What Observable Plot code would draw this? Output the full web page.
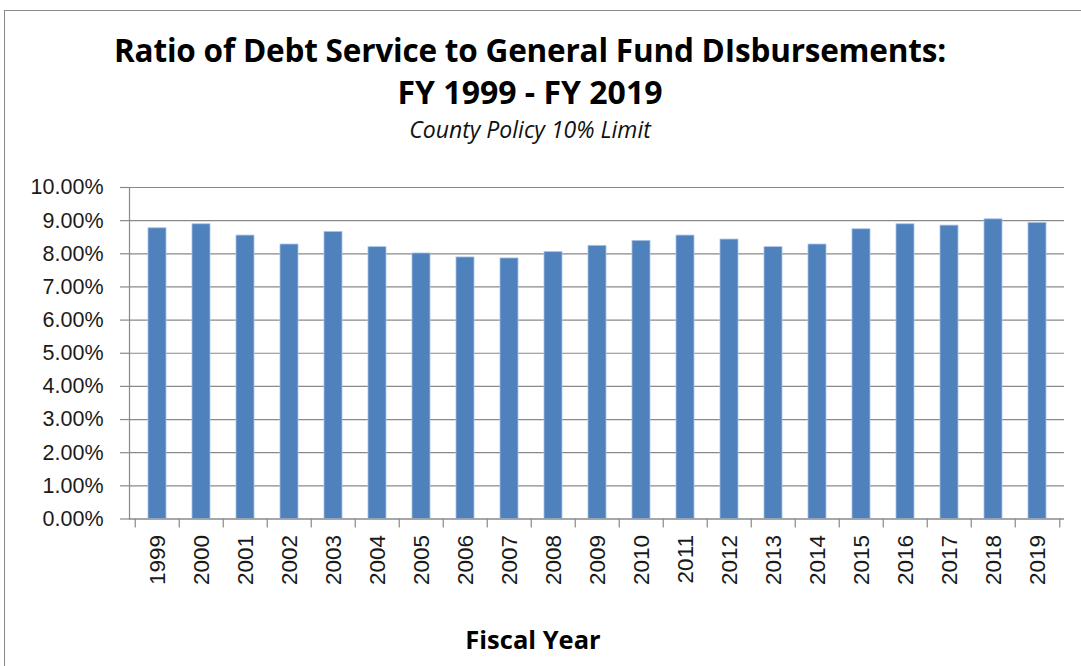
<!DOCTYPE html>
<html>
<head>
<meta charset="utf-8">
<script src="https://cdn.jsdelivr.net/npm/d3@7"></script>
<script src="https://cdn.jsdelivr.net/npm/@observablehq/plot@0.6"></script>
<style>
  html, body { margin: 0; padding: 0; background: #fff; }
  body { width: 1081px; height: 666px; overflow: hidden; position: relative; }
  #frame { position: absolute; left: 4px; top: 10px; width: 1100px; height: 700px; border: 1.5px solid #8a8a8a; box-sizing: border-box; }
  .t { position: absolute; left: 0; width: 1060px; text-align: center; white-space: nowrap; color: #000; line-height: 1; }
  #t1 { top: 28px; font: bold 31.5px "Open Sans"; letter-spacing: -0.2px; }
  #t2 { top: 70px; font: bold 32px "Open Sans"; }
  #t3 { top: 113px; font: italic 23px "Open Sans"; color: #111; }
  #xl { top: 622px; left: 3px; font: bold 25.5px "Open Sans"; }
  #chart { position: absolute; left: 0; top: 150px; }
</style>
</head>
<body>
<div id="frame"></div>
<div class="t" id="t1">Ratio of Debt Service to General Fund DIsbursements:</div>
<div class="t" id="t2">FY 1999 - FY 2019</div>
<div class="t" id="t3">County Policy 10% Limit</div>
<div id="chart"></div>
<div class="t" id="xl">Fiscal Year</div>
<script>
const years = ["1999","2000","2001","2002","2003","2004","2005","2006","2007","2008","2009",
               "2010","2011","2012","2013","2014","2015","2016","2017","2018","2019"];
const ratios = [8.77, 8.89, 8.55, 8.28, 8.66, 8.20, 8.01, 7.89, 7.86, 8.05, 8.24,
                8.39, 8.55, 8.43, 8.20, 8.28, 8.74, 8.89, 8.85, 9.04, 8.93];
const yTicks = [0, 1, 2, 3, 4, 5, 6, 7, 8, 9, 10];

const data = years.map((y, i) => ({year: y, value: ratios[i]}));

const W = 1081, H = 516;
const mL = 129, mR = 17, mT = 37, mB = 147.5;
const step = (W - mL - mR) / years.length;
const gray = "#898989";

const chart = Plot.plot({
  width: W,
  height: H,
  marginLeft: mL,
  marginRight: mR,
  marginTop: mT,
  marginBottom: mB,
  style: {fontFamily: "'Liberation Sans', Arial, sans-serif", fontSize: "21.5px", color: "#1a1a1a", background: "transparent"},
  x: {domain: years, paddingInner: 0.6, paddingOuter: 0.3, label: null},
  y: {domain: [0, 10], label: null},
  marks: [
    Plot.gridY(yTicks, {stroke: gray, strokeOpacity: 1, strokeWidth: 1.2}),
    Plot.barY(data, {x: "year", y: "value", fill: "#4F81BD", stroke: "#a9c3e3", strokeWidth: 0.8}),
    Plot.ruleY([0], {stroke: gray, strokeWidth: 1.2}),
    Plot.frame({anchor: "left", stroke: gray, strokeWidth: 1.2}),
    Plot.axisY(yTicks, {tickSize: 9, tickPadding: 17, stroke: gray, strokeWidth: 1.2, tickFormat: d => d.toFixed(2) + "%", fill: "#1a1a1a"}),
    Plot.ruleX(years, {x: d => d, dx: -step / 2, y1: 0, y2: 0, insetBottom: -9, stroke: gray, strokeWidth: 1.2}),
    Plot.ruleX([years[years.length - 1]], {x: d => d, dx: step / 2, y1: 0, y2: 0, insetBottom: -9, stroke: gray, strokeWidth: 1.2}),
    Plot.axisX({tickSize: 0, tickPadding: 16, tickRotate: -90, fontSize: "22.5px", fill: "#1a1a1a"})
  ]
});
document.getElementById("chart").append(chart);
</script>
</body>
</html>
